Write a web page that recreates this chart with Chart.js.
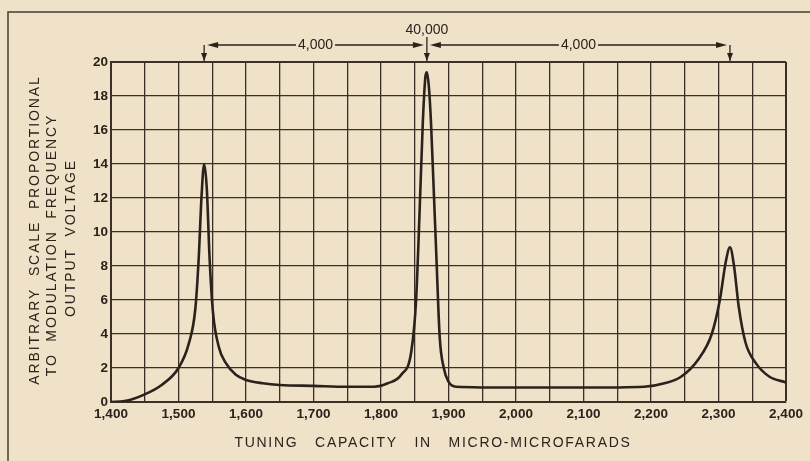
<!DOCTYPE html>
<html>
<head>
<meta charset="utf-8">
<script src="https://cdn.jsdelivr.net/npm/chart.js@4.4.1/dist/chart.umd.min.js"></script>
<style>
  html, body { margin: 0; padding: 0; background: #efe2c9; }
  #wrap { width: 810px; height: 461px; }
</style>
</head>
<body>
<div id="wrap"><canvas id="tuningChart" width="810" height="461"></canvas></div>
<script>
// tuning capacity (micro-microfarads) vs. output voltage (arbitrary scale)
const capacity = [1400, 1420, 1450, 1475, 1500, 1515, 1525, 1530, 1534, 1538, 1542, 1546, 1551, 1560, 1570, 1585, 1600, 1625, 1650, 1700, 1750, 1790,
                  1810, 1830, 1845, 1852, 1857, 1862, 1866, 1868, 1871, 1874, 1878, 1882, 1887, 1893, 1900, 1911, 2000, 2100, 2190,
                  2220, 2245, 2270, 2290, 2302, 2311, 2317, 2323, 2330, 2340, 2355, 2375, 2400];
const voltage = [0, 0.05, 0.45, 1.0, 2.0, 3.4, 5.5, 8.5, 12, 14.0, 12.5, 8.5, 5.3, 3.2, 2.3, 1.6, 1.3, 1.1, 1.0, 0.95, 0.9, 0.9,
                 1.1, 1.6, 3.0, 6, 11, 16.5, 19.2, 19.4, 18.5, 16.5, 12.6, 8.6, 3.8, 2.0, 1.2, 0.9, 0.85, 0.85, 0.9,
                 1.1, 1.5, 2.5, 4.0, 6, 8.3, 9.1, 8.0, 5.6, 3.5, 2.3, 1.5, 1.15];

// resonance peaks marked above the grid, and the frequency notes between them
const markerCapacity = [1538, 1868, 2317];
const spacingLabels = ['4,000', '4,000'];
const centreLabel = '40,000';

const yTitle = ['ARBITRARY  SCALE  PROPORTIONAL', 'TO  MODULATION  FREQUENCY', 'OUTPUT  VOLTAGE'];
const xTitle = 'TUNING   CAPACITY   IN   MICRO-MICROFARADS';

const ink = '#2b221c';
const gridInk = '#3b3028';
const paper = '#efe2c9';
const fontFamily = '"Liberation Sans", Arial, sans-serif';

function arrowHead(ctx, x, y, dir) {
    // dir: 'left' | 'right' | 'down'
    ctx.beginPath();
    if (dir === 'down') {
        ctx.moveTo(x, y);
        ctx.lineTo(x - 3, y - 8);
        ctx.lineTo(x + 3, y - 8);
    } else if (dir === 'left') {
        ctx.moveTo(x, y);
        ctx.lineTo(x + 11, y - 3);
        ctx.lineTo(x + 11, y + 3);
    } else {
        ctx.moveTo(x, y);
        ctx.lineTo(x - 11, y - 3);
        ctx.lineTo(x - 11, y + 3);
    }
    ctx.closePath();
    ctx.fill();
}

const paperPlugin = {
    id: 'paper',
    beforeDraw(chart) {
        const ctx = chart.ctx;
        ctx.save();
        ctx.fillStyle = paper;
        ctx.fillRect(0, 0, chart.width, chart.height);
        // outer frame of the figure
        ctx.strokeStyle = '#4a3d32';
        ctx.lineWidth = 1.5;
        ctx.beginPath();
        ctx.moveTo(8, chart.height);
        ctx.lineTo(8, 12);
        ctx.lineTo(chart.width, 12);
        ctx.stroke();
        ctx.restore();
    },
    afterDraw(chart) {
        const ctx = chart.ctx;
        const area = chart.chartArea;
        const xs = chart.scales.x;
        ctx.save();
        ctx.fillStyle = ink;
        ctx.strokeStyle = ink;
        ctx.lineWidth = 1.3;

        // axis titles
        ctx.font = '14px ' + fontFamily;
        ctx.textAlign = 'center';
        ctx.textBaseline = 'middle';
        ctx.letterSpacing = '1.7px';
        ctx.fillText(xTitle, 433, 443);

        const cols = [35, 52, 71];
        const centres = [230, 245, 238];
        ctx.letterSpacing = '1.9px';
        yTitle.forEach((line, i) => {
            ctx.save();
            ctx.translate(cols[i], centres[i]);
            ctx.rotate(-Math.PI / 2);
            ctx.fillText(line, 0, 0);
            ctx.restore();
        });
        ctx.letterSpacing = '0px';

        // peak markers and spacing arrows
        const px = markerCapacity.map(v => xs.getPixelForValue(v));
        const lineY = area.top - 17;
        ctx.font = '14px ' + fontFamily;
        px.forEach((x, i) => {
            const startY = i === 1 ? area.top - 25 : lineY;
            ctx.beginPath();
            ctx.moveTo(x, startY);
            ctx.lineTo(x, area.top - 1);
            ctx.stroke();
            arrowHead(ctx, x, area.top - 1, 'down');
        });
        ctx.fillText(centreLabel, px[1], area.top - 32);

        for (let i = 0; i < px.length - 1; i++) {
            const a = px[i] + 3, b = px[i + 1] - 3;
            const mid = (a + b) / 2;
            const w = ctx.measureText(spacingLabels[i]).width / 2 + 2;
            ctx.beginPath();
            ctx.moveTo(a + 4, lineY);
            ctx.lineTo(mid - w, lineY);
            ctx.moveTo(mid + w, lineY);
            ctx.lineTo(b - 4, lineY);
            ctx.stroke();
            arrowHead(ctx, a, lineY, 'left');
            arrowHead(ctx, b, lineY, 'right');
            ctx.fillText(spacingLabels[i], mid, lineY);
        }
        ctx.restore();
    }
};

const ctx = document.getElementById('tuningChart').getContext('2d');

new Chart(ctx, {
    type: 'line',
    data: {
        datasets: [{
            data: capacity.map((c, i) => ({ x: c, y: voltage[i] })),
            borderColor: ink,
            borderWidth: 2.6,
            pointRadius: 0,
            fill: false,
            cubicInterpolationMode: 'monotone'
        }]
    },
    options: {
        responsive: false,
        animation: false,
        layout: { padding: { left: 0, top: 62, right: 24, bottom: 0 } },
        plugins: {
            legend: { display: false },
            tooltip: { enabled: false }
        },
        scales: {
            x: {
                type: 'linear',
                min: 1400,
                max: 2400,
                afterFit: s => { s.height = 59; },
                ticks: {
                    stepSize: 50,
                    autoSkip: false,
                    maxRotation: 0,
                    padding: 4,
                    color: ink,
                    font: { family: fontFamily, size: 13.5, weight: '600' },
                    callback: v => (v % 100 === 0 ? v.toLocaleString('en-US') : '')
                },
                grid: {
                    color: gridInk,
                    lineWidth: c => (c.tick && c.tick.value === 2400 ? 2 : 1.3),
                    drawTicks: false
                },
                border: { color: gridInk, width: 2 }
            },
            y: {
                min: 0,
                max: 20,
                afterFit: s => { s.width = 111; },
                ticks: {
                    stepSize: 2,
                    padding: 3,
                    color: ink,
                    font: { family: fontFamily, size: 13.5, weight: '600' }
                },
                grid: {
                    color: gridInk,
                    lineWidth: c => (c.tick && c.tick.value === 20 ? 2 : 1.3),
                    drawTicks: false
                },
                border: { color: gridInk, width: 2 }
            }
        }
    },
    plugins: [paperPlugin]
});
</script>
</body>
</html>
